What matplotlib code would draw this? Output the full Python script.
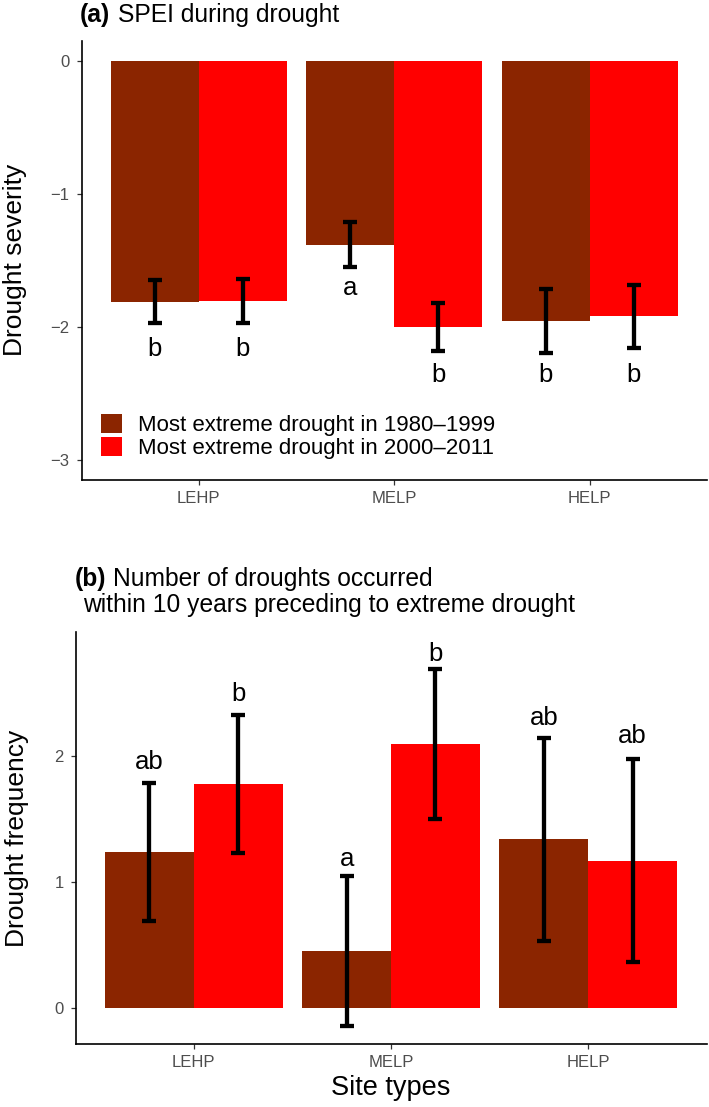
import matplotlib
matplotlib.use('Agg')
import matplotlib.pyplot as plt
import numpy as np
from matplotlib.patches import Patch

plt.rcParams['font.family'] = ['Liberation Sans', 'DejaVu Sans']

# ---------------- data ----------------
sites = ['LEHP', 'MELP', 'HELP']
periods = ['Most extreme drought in 1980\u20131999', 'Most extreme drought in 2000\u20132011']
colors = ['#8B2500', '#FF0000']

severity_1980 = [-1.81, -1.38, -1.955]
severity_2000 = [-1.805, -2.00, -1.92]
severity_se_1980 = [0.16, 0.17, 0.24]
severity_se_2000 = [0.165, 0.18, 0.237]
severity_letters_1980 = ['b', 'a', 'b']
severity_letters_2000 = ['b', 'b', 'b']
severity_letter_y_1980 = [-2.22, -1.76, -2.41]
severity_letter_y_2000 = [-2.22, -2.41, -2.41]

freq_1980 = [1.235, 0.45, 1.335]
freq_2000 = [1.775, 2.095, 1.165]
freq_se_1980 = [0.55, 0.597, 0.805]
freq_se_2000 = [0.545, 0.595, 0.805]
freq_letters_1980 = ['ab', 'a', 'ab']
freq_letters_2000 = ['b', 'b', 'ab']
freq_letter_y_1980 = [1.89, 1.12, 2.24]
freq_letter_y_2000 = [2.43, 2.75, 2.10]

W, H = 709, 1107
fig = plt.figure(figsize=(W / 100, H / 100), dpi=100)


def px_axes(left, right, top, bottom):
    return fig.add_axes([left / W, 1 - bottom / H, (right - left) / W, (bottom - top) / H])


def draw_panel(ax, vals, ses, letters, letter_y, ylim, yticks):
    x = np.arange(len(sites))
    offsets = [-0.225, 0.225]
    for v, e, col, off, lets, ly in zip(vals, ses, colors, offsets, letters, letter_y):
        ax.bar(x + off, v, width=0.45, color=col, edgecolor='none', zorder=1)
        ax.errorbar(x + off, v, yerr=e, fmt='none', ecolor='black',
                    elinewidth=3.1, capsize=5.2, capthick=3.1, zorder=3)
        for xi, t, yy in zip(x + off, lets, ly):
            ax.text(xi, yy, t, ha='center', va='baseline', fontsize=18.5, color='black', zorder=4)
    ax.set_xlim(-0.6, len(sites) - 0.4)
    ax.set_ylim(*ylim)
    ax.set_xticks(x)
    ax.set_xticklabels(sites)
    ax.set_yticks(yticks)
    for s in ['top', 'right']:
        ax.spines[s].set_visible(False)
    for s in ['left', 'bottom']:
        ax.spines[s].set_linewidth(1.2)
        ax.spines[s].set_color('black')
    ax.tick_params(axis='both', length=3.6, width=0.9, color='#333333',
                   labelcolor='#4D4D4D', labelsize=12)
    ax.tick_params(axis='x', pad=4.5)
    ax.tick_params(axis='y', pad=5)


# ---------------- panel (a) ----------------
ax1 = px_axes(81.5, 707, 41, 480)
draw_panel(ax1, [severity_1980, severity_2000], [severity_se_1980, severity_se_2000],
           [severity_letters_1980, severity_letters_2000],
           [severity_letter_y_1980, severity_letter_y_2000],
           (-3.15, 0.15), [-3, -2, -1, 0])
handles = [Patch(facecolor=c, edgecolor='none') for c in colors]
ax1.legend(handles, periods, loc='lower left',
           bbox_to_anchor=((101 - 81.5) / (707 - 81.5), (480 - 459) / (480 - 41)),
           frameon=False, fontsize=16, handlelength=0.95, handleheight=0.95,
           handletextpad=0.72, labelspacing=0.03, borderpad=0, borderaxespad=0)

# ---------------- panel (b) ----------------
ax2 = px_axes(75.5, 706.5, 632, 1044)
draw_panel(ax2, [freq_1980, freq_2000], [freq_se_1980, freq_se_2000],
           [freq_letters_1980, freq_letters_2000],
           [freq_letter_y_1980, freq_letter_y_2000],
           (-0.288, 2.98), [0, 1, 2])

# ---------------- titles / axis titles ----------------
def ftext(x, y, s, **kw):
    fig.text(x / W, 1 - y / H, s, **kw)

ftext(80, 22, '(a)', fontsize=17.7, fontweight='bold', va='baseline', ha='left')
ftext(118, 22, 'SPEI during drought', fontsize=17.7, va='baseline', ha='left')

ftext(75, 586, '(b)', fontsize=17.7, fontweight='bold', va='baseline', ha='left')
ftext(113, 586, 'Number of droughts occurred', fontsize=17.7, va='baseline', ha='left')
ftext(83, 612, 'within 10 years preceding to extreme drought', fontsize=17.7,
      va='baseline', ha='left')

ftext(15, 260, 'Drought severity', fontsize=19, rotation=90, ha='center', va='center')
ftext(17, 838, 'Drought frequency', fontsize=19, rotation=90, ha='center', va='center')
ftext(391, 1088, 'Site types', fontsize=19.5, ha='center', va='center')

fig.savefig('out.png', dpi=100)
